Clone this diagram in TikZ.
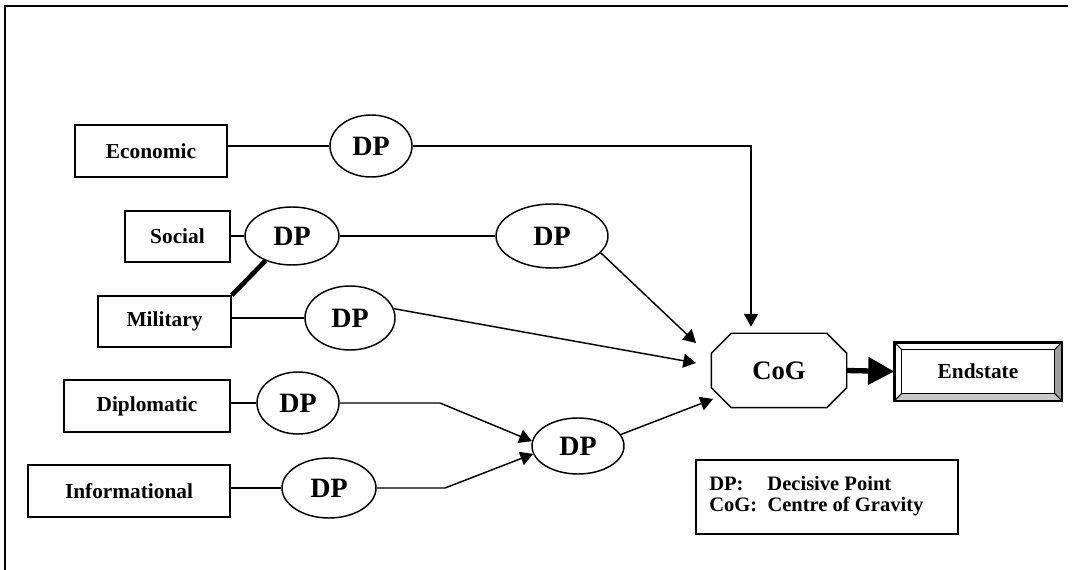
\documentclass[tikz,border=0pt]{standalone}
\usepackage{fontspec}
\setmainfont{Liberation Serif}
\usetikzlibrary{arrows.meta,shapes.geometric}

\begin{document}
\begin{tikzpicture}[x=0.75pt,y=-0.75pt,>={Triangle[length=9.5pt,width=10.5pt]},
	line width=1.1pt,
	]

	\tikzset{domain box/.style={
				draw,rectangle,line width=1.2pt,inner sep=0pt,
				font=\fontsize{16}{18}\selectfont\bfseries}
	}
	\tikzset{decisive point/.style={
				draw,ellipse,line width=1.1pt,inner sep=0pt,
				font=\fontsize{21}{23}\selectfont\bfseries}
	}
	\tikzset{gravity/.style={
				rectangle,inner sep=0pt,
				font=\fontsize{20}{22}\selectfont\bfseries}
	}

	\useasboundingbox (0,0) rectangle (1072,570);
	\draw[line width=1.2pt] (5,570) -- (5,6) -- (1068,6);

	% lines of operation
	\node[domain box,minimum width=114pt,minimum height=39pt] (econ) at (151,151) {Economic};
	\node[domain box,minimum width=78.75pt,minimum height=38.25pt] (social) at (177.5,236.5) {Social};
	\node[domain box,minimum width=99.75pt,minimum height=38.25pt] (military) at (164.5,321.5) {Military};
	\node[domain box,minimum width=124.5pt,minimum height=39pt] (diplomatic) at (147,406) {Diplomatic};
	\node[domain box,minimum width=151.5pt,minimum height=39pt] (informational) at (129,491) {Informational};

	\node[decisive point,minimum width=61.5pt,minimum height=46.5pt] (eDP) at (371,146) {DP};
	\node[decisive point,minimum width=70.5pt,minimum height=43.5pt] (sDP) at (292,236) {DP};
	\node[decisive point,minimum width=84pt,minimum height=48pt] (s2DP) at (552,236) {DP};
	\node[decisive point,minimum width=67.5pt,minimum height=48pt] (mDP) at (350,318) {DP};
	\node[decisive point,minimum width=61.5pt,minimum height=46.5pt] (dDP) at (298,403) {DP};
	\node[decisive point,minimum width=70.5pt,minimum height=45pt] (iDP) at (329,488) {DP};
	\node[decisive point,minimum width=69pt,minimum height=42pt] (cDP) at (578,446) {DP};

	% centre of gravity, octagon
	\node[gravity,minimum width=100.5pt,minimum height=54.75pt] (cog) at (779,370.5) {CoG};
	\draw ([xshift=15pt]cog.north west) -- ([xshift=-15pt]cog.north east)
		-- ([yshift=-15pt]cog.north east) -- ([yshift=15pt]cog.south east)
		-- ([xshift=-15pt]cog.south east) -- ([xshift=15pt]cog.south west)
		-- ([yshift=15pt]cog.south west) -- ([yshift=-15pt]cog.north west) -- cycle;

	% endstate, bevelled box
	\node[domain box,minimum width=124.5pt,minimum height=42.75pt] (endst) at (978,371.5) {Endstate};
	\coordinate (endnw) at ([shift={(5.6pt,-5.6pt)}]endst.north west);
	\coordinate (endne) at ([shift={(-5.6pt,-5.6pt)}]endst.north east);
	\coordinate (endse) at ([shift={(-5.6pt,5.6pt)}]endst.south east);
	\coordinate (endsw) at ([shift={(5.6pt,5.6pt)}]endst.south west);
	\fill[black!38] (endst.north east) -- (endst.south east) -- (endse) -- (endne) -- cycle;
	\fill[black!22] (endst.south west) -- (endst.south east) -- (endse) -- (endsw) -- cycle;
	\draw[line width=0.8pt] (endnw) rectangle (endse);
	\draw[line width=0.8pt] (endst.north west) -- (endnw) (endst.north east) -- (endne)
		(endst.south east) -- (endse) (endst.south west) -- (endsw);
	\draw[line width=1.2pt] (endst.north west) rectangle (endst.south east);

	\node[draw,rectangle,line width=1.1pt,minimum width=196.5pt,minimum height=55.5pt] (legend) at (827,497) {};
	\node[anchor=west,inner sep=0pt,font=\fontsize{15.4}{15}\selectfont\bfseries] (legendtext) at ([xshift=10pt]legend.west)
		{\begin{tabular}{@{}l@{\ \ }l@{}}DP: & Decisive Point\\ CoG: & Centre of Gravity\end{tabular}};

	\coordinate (econbend) at (751,146);
	\coordinate (dipbend) at (440,403);
	\coordinate (infobend) at (445,488);
	\coordinate (cogin1) at (696,343);
	\coordinate (cogin2) at (696,363);
	\coordinate (cogin3) at (713,399);

	\draw (econ.east |- eDP.west) -- (eDP.west);
	\draw[->] (eDP.east) -- (econbend) -- ([yshift=5pt]econbend |- cog.north);

	\draw (social.east |- sDP.west) -- (sDP.west);
	\draw (sDP.east) -- (s2DP.west);
	\draw[->] (s2DP.-19) -- (cogin1);

	\draw[line width=3.5pt] (military.north east) -- (sDP.223);
	\draw (military.east |- mDP.west) -- (mDP.west);
	\draw[->] (mDP.12) -- (cogin2);

	\draw (diplomatic.east |- dDP.west) -- (dDP.west);
	\draw[->] (dDP.east) -- (dipbend) -- (cDP.174);
	\draw (informational.east |- iDP.west) -- (iDP.west);
	\draw[->] (iDP.east) -- (infobend) -- (cDP.190);
	\draw[->] (cDP.15) -- (cogin3);

	\draw[line width=4pt,-{Triangle[length=19.5pt,width=20pt]}] (cog.east) -- (endst.west);

\end{tikzpicture}
\end{document}
